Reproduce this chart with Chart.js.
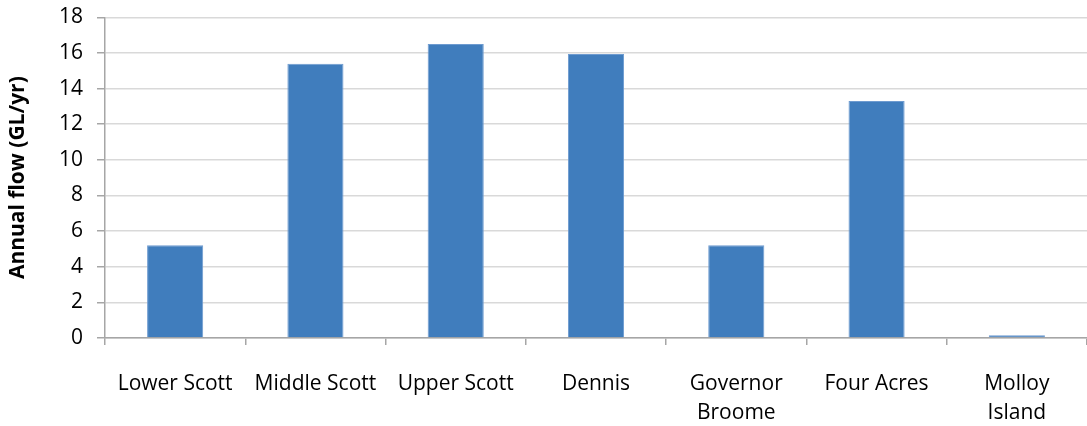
<!DOCTYPE html>
<html>
<head>
<meta charset="utf-8">
<script src="https://cdn.jsdelivr.net/npm/chart.js@4/dist/chart.umd.min.js"></script>
<style>
  html, body { margin: 0; padding: 0; background: #fff; }
  #wrap { width: 1087px; height: 426px; }
</style>
</head>
<body>
<div id="wrap"><canvas id="flowChart" width="1087" height="426"></canvas></div>
<script>
// annual flow per site
const sites = [
    'Lower Scott', 'Middle Scott', 'Upper Scott', 'Dennis',
    ['Governor', 'Broome'], 'Four Acres', ['Molloy', 'Island']
];
const annualFlow = [5.2, 15.4, 16.5, 15.95, 5.2, 13.3, 0.15];
const yTicks = [0, 2, 4, 6, 8, 10, 12, 14, 16, 18];

const ctx = document.getElementById('flowChart').getContext('2d');

new Chart(ctx, {
    type: 'bar',
    data: {
        labels: sites,
        datasets: [{
            label: 'Annual flow (GL/yr)',
            data: annualFlow,
            backgroundColor: '#407DBD',
            borderColor: '#6E9BD0',
            borderWidth: 1,
            barPercentage: 0.4,
            categoryPercentage: 1.0
        }]
    },
    options: {
        responsive: false,
        animation: false,
        layout: { padding: { top: 0, right: 0, bottom: 0, left: 0 } },
        plugins: {
            legend: { display: false },
            tooltip: { enabled: false }
        },
        scales: {
            x: {
                offset: true,
                grid: {
                    offset: true,
                    drawOnChartArea: false,
                    drawTicks: true,
                    tickLength: 7,
                    tickColor: '#A6A6A6',
                    lineWidth: 1.5
                },
                border: { color: '#A6A6A6', width: 1.5 },
                ticks: {
                    color: '#000',
                    font: { family: '"Open Sans", sans-serif', size: 21, lineHeight: 1.35 },
                    padding: 25,
                    maxRotation: 0,
                    autoSkip: false
                },
                afterFit: (scale) => { scale.height = 88; }
            },
            y: {
                min: 0,
                max: 18,
                afterBuildTicks: (scale) => {
                    scale.ticks = yTicks.map(v => ({ value: v }));
                },
                grid: {
                    color: '#D9D9D9',
                    lineWidth: 1.5,
                    tickLength: 8,
                    tickColor: '#A6A6A6'
                },
                border: { color: '#A6A6A6', width: 1.5 },
                ticks: {
                    color: '#000',
                    // single-line labels, so a short line height only trims the top gap
                    font: { family: '"Open Sans", sans-serif', size: 21, lineHeight: 0.32 },
                    padding: 14
                },
                title: {
                    display: true,
                    text: 'Annual flow (GL/yr)',
                    color: '#000',
                    font: { family: '"Open Sans", sans-serif', size: 21, weight: 'bold' },
                    padding: { top: 5, bottom: 4 }
                },
                afterFit: (scale) => { scale.width = 105; }
            }
        }
    }
});
</script>
</body>
</html>
